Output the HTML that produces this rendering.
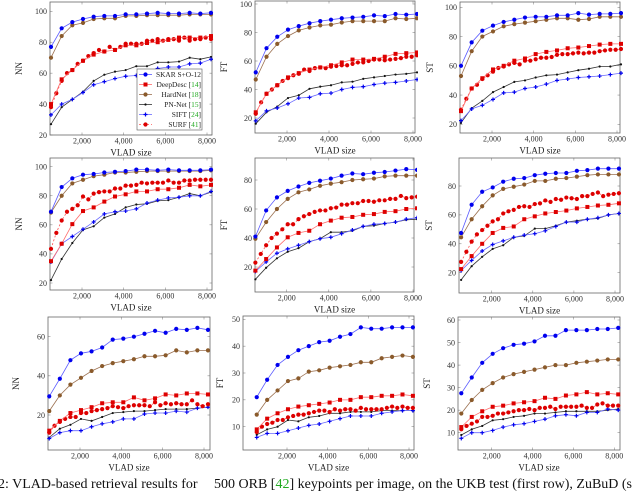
<!DOCTYPE html>
<html><head><meta charset="utf-8">
<style>
html,body{margin:0;padding:0;background:#fff;width:640px;height:487px;overflow:hidden;}
svg{display:block;font-family:"Liberation Serif",serif;}
.cap{position:absolute;top:477px;font-family:"Liberation Serif",serif;font-size:14px;line-height:16px;color:#111;white-space:nowrap;}
</style></head>
<body>
<svg id="chart" width="640" height="487" viewBox="0 0 640 487" xmlns="http://www.w3.org/2000/svg"></svg>
<div class="cap" style="left:-2px">2: VLAD-based retrieval results for</div>
<div class="cap" style="left:214px">500 ORB [<span style="color:#2a2">42</span>] keypoints per image, on the UKB test (first row), ZuBuD (s</div>
<script>
// x categories: VLAD sizes
const vladSizes = [512,1024,1536,2048,2560,3072,3584,4096,4608,5120,5632,6144,6656,7168,7680,8192];
const vladSizesDense = [512,768,1024,1280,1536,1792,2048,2304,2560,2816,3072,3328,3584,3840,4096,4352,4608,4864,5120,5376,5632,5888,6144,6400,6656,6912,7168,7424,7680,7936,8192];
const xTicks = [2000,4000,6000,8000];
const xTickLabels = ["2,000","4,000","6,000","8,000"];
const seriesNames = ["SKAR S+O-12","DeepDesc","HardNet","PN-Net","SIFT","SURF"];
const seriesRefs = ["","14","18","15","24","41"];

// Row 1 (UKB) NN
const r1c1Skar = [77,89,93,95,96.5,97,97,98,98,98.5,99,98.5,98.5,99,98.5,99];
const r1c1Deep = [40,56,62,68,72,74,75,78,78,79.5,80,81.5,83,83,83,84];
const r1c1Hard = [70,84,91,92.5,95,95.5,95.5,97,97,97.5,97.5,97.5,97.5,98,98,98];
const r1c1Pn = [27,38,43,48,55,59,61,62,64.5,64.5,67,67,67.5,70,69,70.5];
const r1c1Sift = [33,40,43,47.5,52.5,54.5,56.5,58,58.5,61,63,64,64,66,66.5,69];
const r1c1Surf = [38,47,55,60,62,66,68,71,73,75,74,77,75,77,79,79,79,79,81,81,82,81,82,82,81,83,81,82,82,83,82];
// Row 1 FT
const r1c2Skar = [52,69,77,82,84.5,86.5,88,89,90,90.5,91,92,91.5,93,92.5,93];
const r1c2Deep = [24,37,43,48.5,51.5,54,55.5,57,59,61,61,61.5,63,65,65.5,66];
const r1c2Hard = [47,63,72,77.5,81.5,83.5,85,85.5,87,88,88,88,88,90,89.5,90];
const r1c2Pn = [16,24,28,34,36,40.5,42,43,45,45.5,47.5,48.5,49.5,50.5,51,52];
const r1c2Sift = [18,25,27,30,34,34.5,37,37.5,40,41.5,42,43.5,44.5,45,46,47];
const r1c2Surf = [23,31,37,40,43,46,48,50,51,54,53,55,55.5,55,56,56.5,57,57,58,59,59,60,61,61,60.5,61,61.5,62,63,63,64];
// Row 1 ST
const r1c3Skar = [60,76,84,87.5,90,91.5,93,93.5,93.5,94.5,94.5,96,95,95.5,95.5,96];
const r1c3Deep = [29,44.5,51.5,57.5,60,63.5,65,68,69.5,70.5,72,72.5,73.5,74.5,75,75];
const r1c3Hard = [53,70,80,83.5,87,88.5,89.5,90.5,91.5,92.5,92.5,91.5,92,93.5,93.5,93.5];
const r1c3Pn = [21,31,36,42,45.5,49,50,52,53.5,54,55.5,57,58,59.5,59.5,61];
const r1c3Sift = [22.5,30.5,33,37,41.5,42,44.5,45.5,47.5,50,51,52,52.5,53,54,55];
const r1c3Surf = [30,37.5,44.5,47,51,53.5,56,58.5,59.5,61,62,61,63.5,63.5,64.5,65.5,65.5,66,67.5,68,68,68.5,69,68.5,69,69,70,70.5,71,71,71.5];
// Row 2 NN
const r2c1Skar = [69,86,92,94.5,95,96,96.5,97,98,98,97.5,98,97.5,97.5,97.5,98];
const r2c1Deep = [35,47,60.5,69.5,72,76,79.5,81,83,83,84.5,84.5,85.5,87.5,86.5,87.5];
const r2c1Hard = [68.5,80,88.5,91,93.5,94.5,96,96,96.5,97,97,97,97,97,97,97.5];
const r2c1Pn = [22,36.5,47.5,56.5,59,65,67.5,72,74,74.5,76.5,77,79,81.5,80,82.5];
const r2c1Sift = [34.5,47,52,57,62,67.5,69,69.5,71,75,77,78.5,79,80,80,83];
const r2c1Surf = [43.5,54.5,63,69,71,73.5,79.5,77.5,81.5,82.5,83,83,85,85,87,87,87.5,89,88.5,89,89,89,90.5,89,89,90.5,90.5,91,91,91,91];
// Row 2 FT
const r2c2Skar = [41,59,68,72.5,75.5,78,79.5,81,83,84.5,84,85,85.5,86.5,87.5,87];
const r2c2Deep = [17.5,25.5,33.5,40.5,43.5,45,49.5,52,54,54.5,56,56.5,58,58.5,60,60.5];
const r2c2Hard = [39.5,51,60,67,71.5,73.5,76,77.5,78.5,80,80.5,81,82.5,83,83,83];
const r2c2Pn = [11.5,19.5,26,30.5,33,37.5,39.5,44,44,45,48,48.5,50,51,52.5,53];
const r2c2Sift = [17,23.5,29.5,32.5,35,37.5,39.5,40.5,43,45.5,48,49.5,50,51,53,54];
const r2c2Surf = [23,29,35,40,43,46,49.5,49.5,53,55,56.5,58,59,59,60.5,61,63,63,64,64,65.5,65.5,65,66,66,67,67,69,67.5,68,68.5];
// Row 2 ST
const r2c3Skar = [47.5,67,76,79,83,85,85.5,87.5,88.5,89,89,90.5,91,92,92,92];
const r2c3Deep = [22.5,31.5,40,47.5,51,52,57,59,61,62,63,64.5,65.5,66.5,67,68];
const r2c3Hard = [44.5,57,66,73.5,78,79.5,81,83.5,83.5,85,85.5,86.5,87.5,88,88,88];
const r2c3Pn = [15,24.5,31,36.5,39,44.5,45.5,50.5,50.5,52.5,55,56,57,57.5,60,61];
const r2c3Sift = [21.5,28.5,35,39.5,42,44.5,46,47,49,52,55,55,57,58,60,61];
const r2c3Surf = [27.5,34.5,41.5,46.5,49.5,52.5,55.5,57,61,62.5,63.5,65.5,66,65.5,67.5,68,70,69,71,70.5,72,71.5,71,73,73,74.5,75.5,73,74,74.5,75];
// Row 3 NN
const r3c1Skar = [29.5,38.5,48,51.5,52.5,54.5,58.5,59,60,61.5,63,62,64,63.5,64.5,63.5];
const r3c1Deep = [12,17,21,22.5,24,26,26.5,26.5,29,27.5,28.5,30.5,30,31,31,30.5];
const r3c1Hard = [22,30,35.5,39,42.5,45,46.5,47.5,48.5,50,50,50.5,53,52,53,53];
const r3c1Pn = [8.5,13,15,18,17,19,21,21.5,22,22,22.5,23,23,23,23.5,24];
const r3c1Sift = [8,11,12,12,14,15.5,16.5,18,18,20.5,21,21,22,21.5,23.5,24];
const r3c1Surf = [11,14.5,16.5,18,19,19,21,21,22,22.5,23,23.5,24.5,24,23.5,24.5,25,25,25,24.5,26.5,25,26,25.5,26,25.5,25.5,27.5,25.5,24.5,25.5];
// Row 3 FT
const r3c2Skar = [21,27.5,33,36,38.5,40,41.5,42,43.5,44.5,47,46.5,46.5,47,47,47];
const r3c2Deep = [9,13,15,16.5,17.5,18,18.5,19,20,20,21,21,21.5,21.5,22,21.5];
const r3c2Hard = [14.5,20,23.5,27,28,30.5,31,32,32.5,33,34,34,35.5,36,36.5,36];
const r3c2Pn = [7,9,10,12.5,12,13.5,14,15,15,15.5,15.5,15.5,16,16,16,16];
const r3c2Sift = [6,7.5,7.5,8.5,9.5,10.5,11,12,13,14,14,14,15,15.5,16,16];
const r3c2Surf = [8,10,11,11.5,12.5,12.5,13.5,14,14.5,14.5,15,15.5,16,16,15.5,16.5,16,16.5,16.5,16,17,16.5,16.5,16.5,16.5,17,17.5,17,17.5,17,17];
// Row 3 ST
const r3c3Skar = [27.5,34.5,41,45,47.5,49,49.5,50.5,53,53,55.5,55.5,55.5,56,56,56.5];
const r3c3Deep = [12.5,17,19.5,21.5,22,23,23.5,24,25.5,25,26.5,27,28,27,27.5,27];
const r3c3Hard = [18.5,24.5,29,32,34.5,36,37,38,39,40,40,41,41.5,42,42.5,42.5];
const r3c3Pn = [9,11.5,13,15.5,16,17,17.5,18.5,18.5,19,19.5,19.5,19.5,19.5,20,20.5];
const r3c3Sift = [7.5,10,10,11,12.5,13.5,14,15,16,17.5,18,17.5,19,19,20.5,20];
const r3c3Surf = [11.5,13,14,15,17,17,17.5,18.5,18.5,19,19.5,20,20,20.5,20,21,21,21.5,20.5,21.5,21.5,21.5,21.5,22,21,21,22.5,23,22,22,22];

const yTicksA = [20,40,60,80,100];
const yTicksB = [20,40,60,80];
const yTicksC = [20,40,60];
const yTicksD = [10,20,30,40,50];
const yTicksE = [10,20,30,40,50,60];

const NS = "http://www.w3.org/2000/svg";
const svg = document.getElementById('chart');
function mk(tag, attrs, parent){const e=document.createElementNS(NS,tag);for(const k in attrs)e.setAttribute(k,attrs[k]);(parent||svg).appendChild(e);return e;}

const panels = [
 {id:'ukb-nn',box:[50,212,2,135],xc:[82,207],yc:[20,135,100,11.3],yt:yTicksA,lab:'NN',lx:22,d:[r1c1Skar,r1c1Deep,r1c1Hard,r1c1Pn,r1c1Sift,r1c1Surf],legend:true},
 {id:'ukb-ft',box:[255,415,1,133],xc:[287,413],yc:[20,118,100,4],yt:yTicksA,lab:'FT',lx:227,d:[r1c2Skar,r1c2Deep,r1c2Hard,r1c2Pn,r1c2Sift,r1c2Surf]},
 {id:'ukb-st',box:[460,620,2,133],xc:[492,617],yc:[20,124.3,100,7.3],yt:yTicksA,lab:'ST',lx:433,d:[r1c3Skar,r1c3Deep,r1c3Hard,r1c3Pn,r1c3Sift,r1c3Surf]},
 {id:'zubud-nn',box:[50,212,158,290],xc:[82,207],yc:[20,283,100,166.7],yt:yTicksA,lab:'NN',lx:22,d:[r2c1Skar,r2c1Deep,r2c1Hard,r2c1Pn,r2c1Sift,r2c1Surf]},
 {id:'zubud-ft',box:[255,414,158,292],xc:[286.7,413],yc:[20,267,80,180],yt:yTicksB,lab:'FT',lx:227,d:[r2c2Skar,r2c2Deep,r2c2Hard,r2c2Pn,r2c2Sift,r2c2Surf]},
 {id:'zubud-st',box:[459,620,158,293],xc:[491.7,615],yc:[20,272.7,80,186],yt:yTicksB,lab:'ST',lx:432,d:[r2c3Skar,r2c3Deep,r2c3Hard,r2c3Pn,r2c3Sift,r2c3Surf]},
 {id:'row3-nn',box:[48,210,317,450],xc:[80,204],yc:[20,415,60,336.7],yt:yTicksC,lab:'NN',lx:19,d:[r3c1Skar,r3c1Deep,r3c1Hard,r3c1Pn,r3c1Sift,r3c1Surf]},
 {id:'row3-ft',box:[243,414,316,450],xc:[287,409],yc:[10,426.7,50,319.3],yt:yTicksD,lab:'FT',lx:223,d:[r3c2Skar,r3c2Deep,r3c2Hard,r3c2Pn,r3c2Sift,r3c2Surf]},
 {id:'row3-st',box:[458,620,317,450],xc:[491.7,614.3],yc:[10,432.7,60,320],yt:yTicksE,lab:'ST',lx:430,d:[r3c3Skar,r3c3Deep,r3c3Hard,r3c3Pn,r3c3Sift,r3c3Surf]}
];
const styles = [
 {line:'#5a5aff',mk:'#0000ee',shape:'circle'},
 {line:'#ff6a6a',mk:'#dd0000',shape:'square'},
 {line:'#9b7050',mk:'#8a5a2b',shape:'circle'},
 {line:'#333',mk:'#111',shape:'star'},
 {line:'#6a6aff',mk:'#0000ee',shape:'plus'},
 {line:'#ff5050',mk:'#dd0000',shape:'circle',dash:'2,2'}
];
const keys=['skar','deepdesc','hardnet','pn-net','sift','surf'];

function marker(g,shape,x,y,c){
  let e;
  if(shape==='circle'){e=mk('circle',{cx:x,cy:y,r:2.1,fill:c},g);}
  else if(shape==='square'){e=mk('rect',{x:x-2,y:y-2,width:4,height:4,fill:c},g);}
  else if(shape==='star'){e=mk('circle',{cx:x,cy:y,r:1.1,fill:c},g);}
  else {e=mk('path',{d:`M${x-2},${y}H${x+2}M${x},${y-2}V${y+2}`,stroke:c,'stroke-width':1.2},g);}
  return e;
}

panels.forEach(p=>{
  const [L,R,T,B]=p.box;
  const sx=v=>p.xc[0]+(v-2000)*(p.xc[1]-p.xc[0])/6000;
  const sy=v=>p.yc[1]+(v-p.yc[0])*(p.yc[3]-p.yc[1])/(p.yc[2]-p.yc[0]);
  const g=mk('g',{});
  
  
  const clipId='clip-'+p.id;
  const cp=mk('clipPath',{id:clipId},g); mk('rect',{x:L-3,y:T-3,width:R-L+6,height:B-T+6},cp);
  xTicks.forEach((t,i)=>{
    const x=sx(t);
    mk('line',{x1:x,y1:B,x2:x,y2:B-2.5,stroke:'#777','stroke-width':0.5},g);
    mk('line',{x1:x,y1:T,x2:x,y2:T+2.5,stroke:'#777','stroke-width':0.5},g);
    const tl=mk('text',{x:x,y:B+8.5,'font-size':8,'text-anchor':'middle',fill:'#333'},g);
    tl.textContent=xTickLabels[i];
    
    
  });
  p.yt.forEach(t=>{
    const y=sy(t);
    mk('line',{x1:L,y1:y,x2:L+2.5,y2:y,stroke:'#777','stroke-width':0.5},g);
    mk('line',{x1:R,y1:y,x2:R-2.5,y2:y,stroke:'#777','stroke-width':0.5},g);
    const tl=mk('text',{x:L-3,y:y+2.8,'font-size':8,'text-anchor':'end',fill:'#333'},g);
    tl.textContent=String(t);
    
    
  });
  const fr=mk('rect',{x:L,y:T,width:R-L,height:B-T,fill:'none',stroke:'#666','stroke-width':0.8},g);
  
  
  const xl=mk('text',{x:(L+R)/2,y:B+20.5,'font-size':9,'text-anchor':'middle',fill:'#222'},g);
  xl.textContent='VLAD size';
  
  
  const yl=mk('text',{x:p.lx,y:(T+B)/2,'font-size':9,'text-anchor':'middle',fill:'#222',transform:`rotate(-90 ${p.lx} ${(T+B)/2})`},g);
  yl.textContent=p.lab;
  
  
  const order=[3,4,5,1,2,0];
  order.forEach(si=>{
    const vals=p.d[si]; const xs = si===5?vladSizesDense:vladSizes; const st=styles[si];
    const sg=mk('g',{'clip-path':`url(#${clipId})`},g);
    
    
    const pts=vals.map((v,i)=>sx(xs[i]).toFixed(1)+','+sy(v).toFixed(1)).join(' ');
    const pl=mk('polyline',{points:pts,fill:'none',stroke:st.line,'stroke-width':0.8},sg);
    if(st.dash) pl.setAttribute('stroke-dasharray',st.dash);
    vals.forEach((v,i)=>{
      const m=marker(sg,st.shape,sx(xs[i]),sy(v),st.mk);
      
      
    });
  });
  if(p.legend){
    const lg=mk('g',{},g);
    
    
    mk('rect',{x:137,y:69,width:65,height:61,fill:'#fff',stroke:'#555','stroke-width':0.6},lg);
    seriesNames.forEach((n,i)=>{
      const y=74.5+i*10; const st=styles[i];
      const e=mk('g',{},lg);
      
      
      const ln=mk('line',{x1:139,y1:y,x2:152,y2:y,stroke:st.line,'stroke-width':0.8},e);
      if(st.dash) ln.setAttribute('stroke-dasharray',st.dash);
      marker(e,st.shape,145.5,y,st.mk);
      const t=mk('text',{x:201,y:y+2.6,'font-size':7.4,'text-anchor':'end',fill:'#222'},e);
      if(seriesRefs[i]){
        t.appendChild(document.createTextNode(n+' ['));
        const ts=document.createElementNS(NS,'tspan'); ts.setAttribute('fill','#22aa22'); ts.textContent=seriesRefs[i]; t.appendChild(ts);
        t.appendChild(document.createTextNode(']'));
      } else t.textContent=n;
    });
  }
});
</script>
</body></html>
